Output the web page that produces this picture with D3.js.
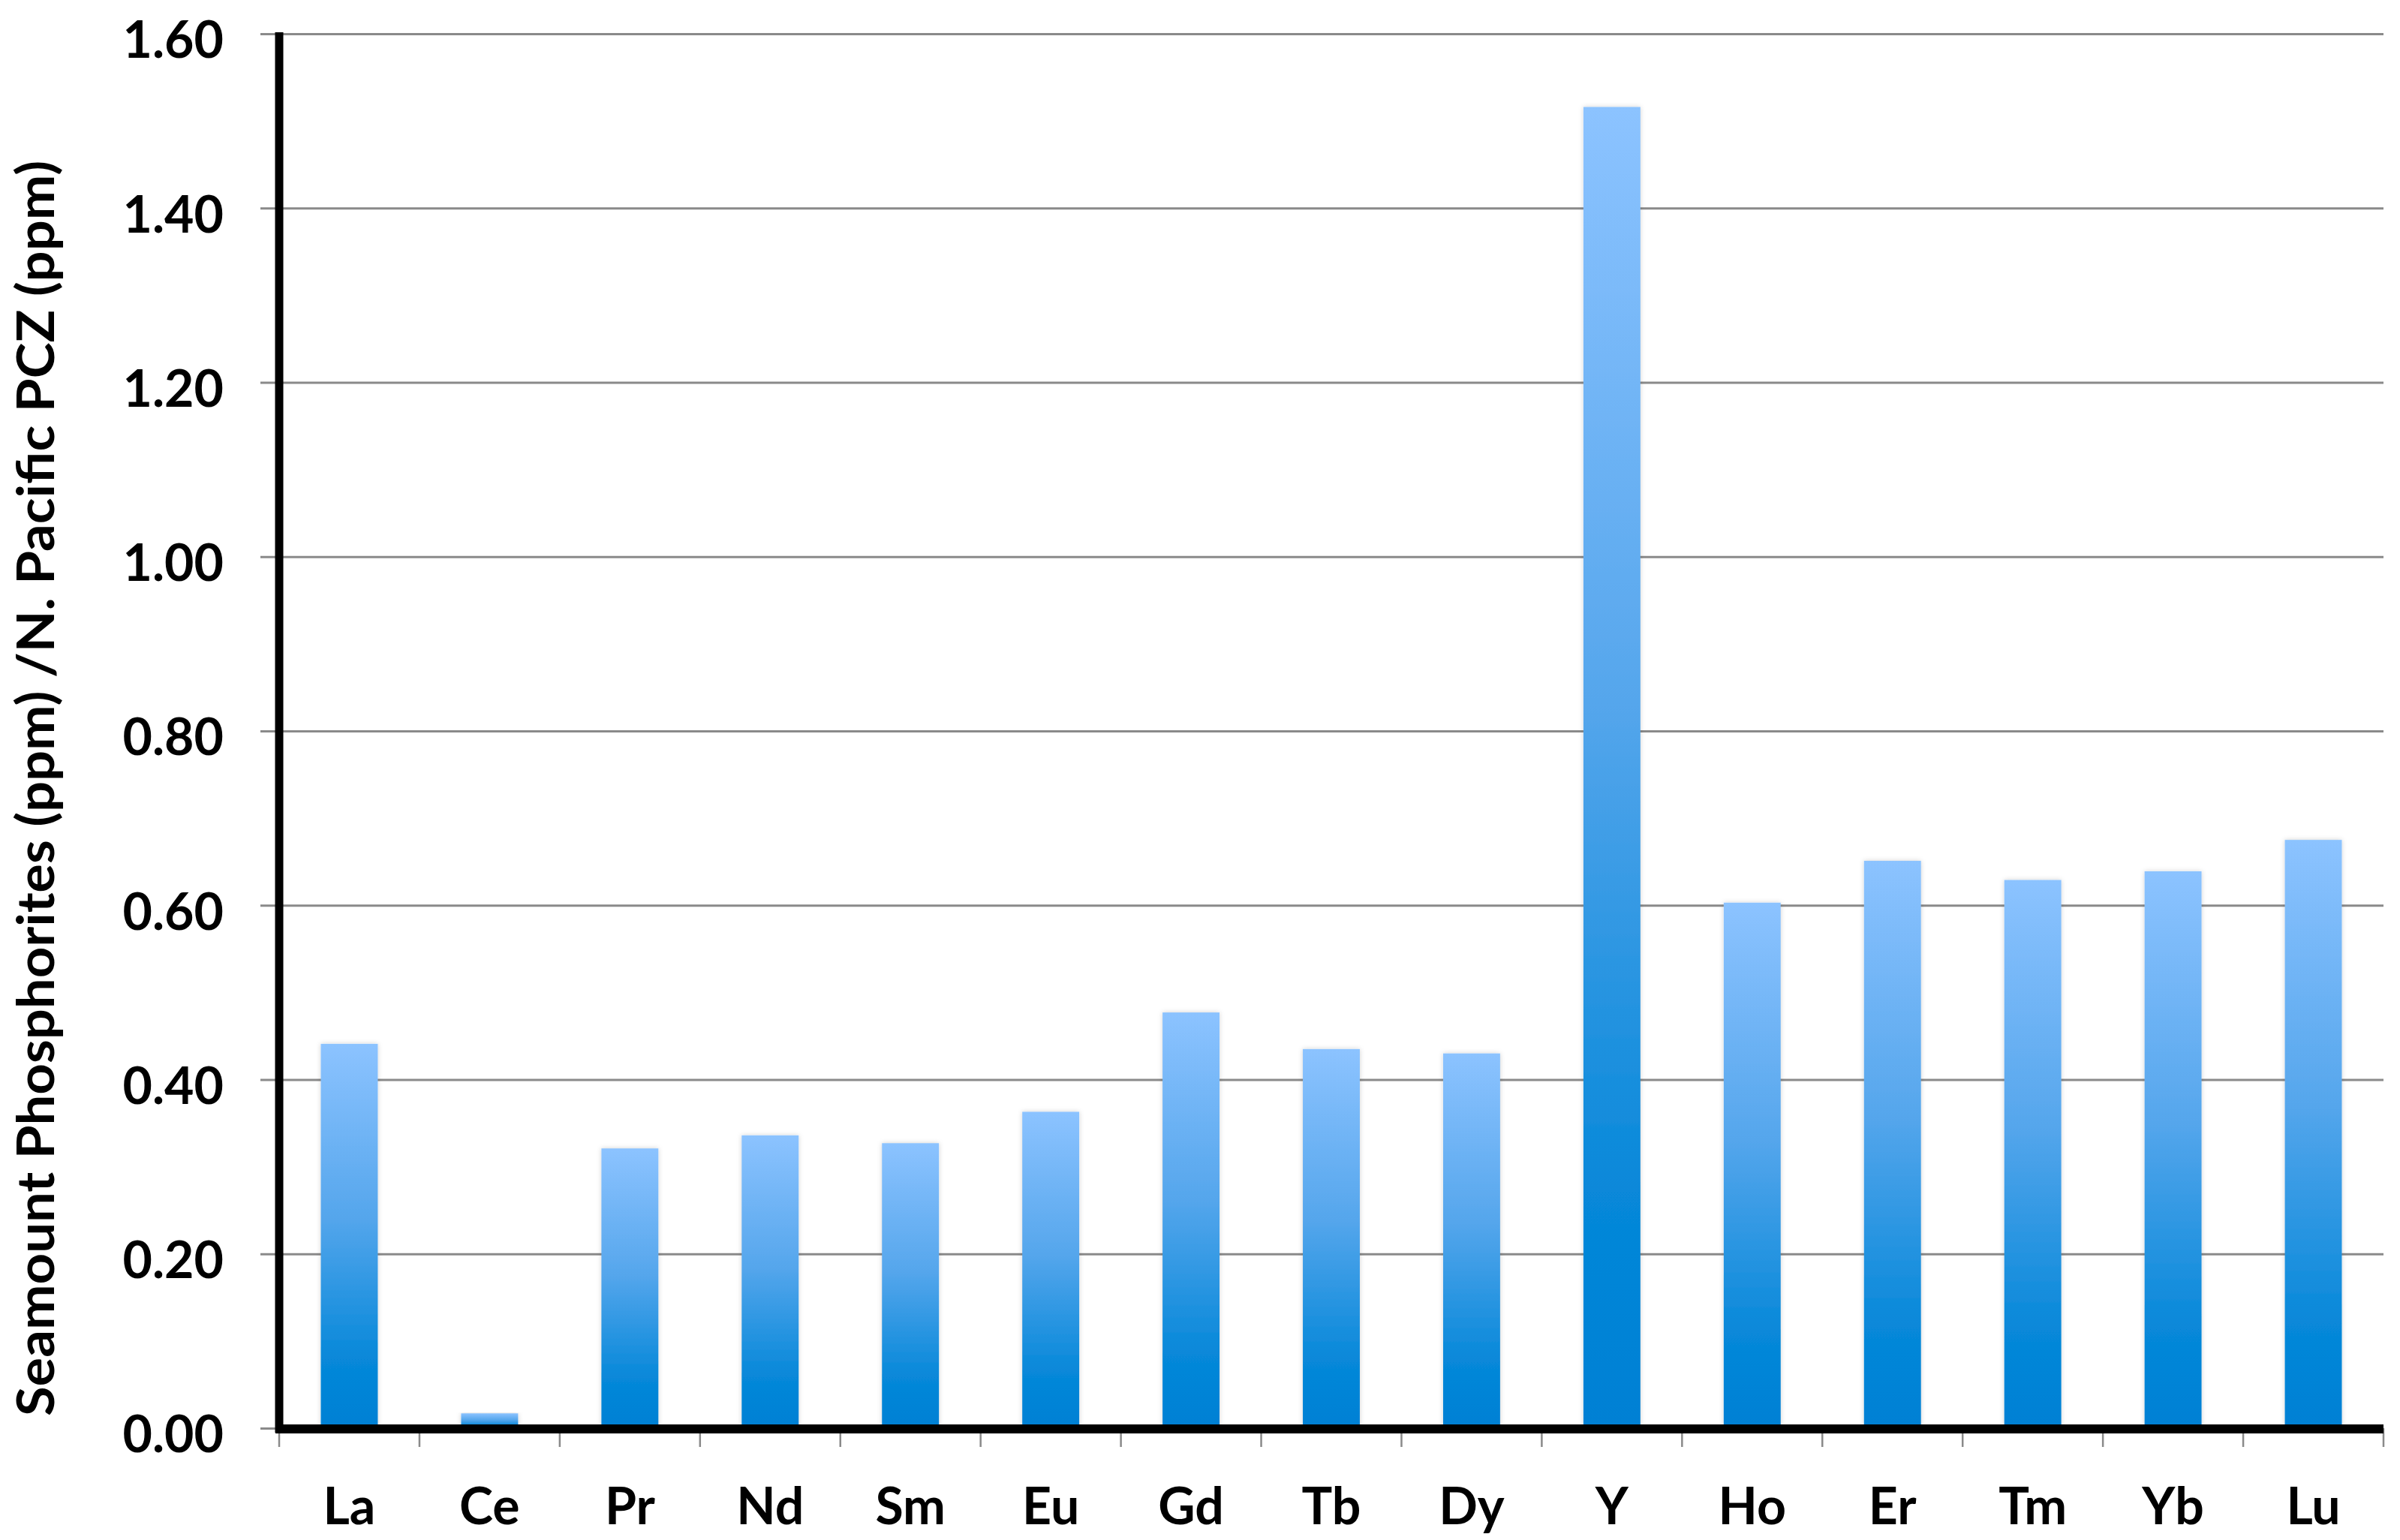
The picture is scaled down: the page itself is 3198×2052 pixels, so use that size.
<!DOCTYPE html>
<html>
<head>
<meta charset="utf-8">
<script src="https://cdn.jsdelivr.net/npm/d3@7"></script>
<style>
  html, body { margin: 0; padding: 0; background: #fff; }
  svg text { font-family: Lato, "Open Sans", sans-serif; font-weight: 700; fill: #000; }
</style>
</head>
<body>
<svg id="chart" width="3198" height="2052"></svg>
<script>
    // REE ratios
    const elements = ["La", "Ce", "Pr", "Nd", "Sm", "Eu", "Gd", "Tb", "Dy", "Y", "Ho", "Er", "Tm", "Yb", "Lu"];
    const ratios = [0.441, 0.017, 0.321, 0.336, 0.327, 0.363, 0.477, 0.435, 0.430, 1.516, 0.603, 0.651, 0.629, 0.639, 0.675];
    const yTicks = [0, 0.2, 0.4, 0.6, 0.8, 1.0, 1.2, 1.4, 1.6];
    const yTitle = "Seamount Phosphorites (ppm) /N. Pacific PCZ (ppm)";

    const svg = d3.select("#chart");
    const margin = { top: 45, right: 22, bottom: 149, left: 372 };
    const width = 3198 - margin.left - margin.right;
    const height = 2052 - margin.top - margin.bottom;

    const x = d3.scaleBand().domain(elements).range([0, width])
      .paddingInner(0.594).paddingOuter(0.297);
    const y = d3.scaleLinear().domain([0, 1.6]).range([height, 0]);

    // gradient + faint shadow like the Excel bars
    const defs = svg.append("defs");
    const grad = defs.append("linearGradient").attr("id", "barGrad")
      .attr("x1", 0).attr("y1", 0).attr("x2", 0).attr("y2", 1);
    grad.append("stop").attr("offset", "0%").attr("stop-color", "#8cc3ff");
    grad.append("stop").attr("offset", "45%").attr("stop-color", "#55a6ec");
    grad.append("stop").attr("offset", "82%").attr("stop-color", "#0788d9");
    grad.append("stop").attr("offset", "100%").attr("stop-color", "#0080d4");
    const shadow = defs.append("filter").attr("id", "barShadow")
      .attr("x", "-20%").attr("y", "-5%").attr("width", "140%").attr("height", "110%");
    shadow.append("feDropShadow").attr("dx", 0).attr("dy", 0)
      .attr("stdDeviation", 3).attr("flood-color", "#000").attr("flood-opacity", 0.18);

    const g = svg.append("g").attr("transform", `translate(${margin.left},${margin.top})`);

    // gridlines (stick out left of the axis as tick stubs)
    g.append("g")
      .attr("transform", `translate(${width},0)`)
      .call(d3.axisRight(y).tickValues(yTicks).tickSize(-(width + 25)).tickFormat(""))
      .call(a => a.select(".domain").remove())
      .call(a => a.selectAll("line").attr("stroke", "#8a8a8a").attr("stroke-width", 3));

    // y tick labels
    g.append("g")
      .call(d3.axisLeft(y).tickValues(yTicks).tickSize(0).tickPadding(74).tickFormat(d3.format(".2f")))
      .call(a => a.select(".domain").remove())
      .call(a => a.selectAll("text")
        .attr("dy", "0.47em")
        .style("font-size", "68px")
        .attr("fill", "#000"));

    // bars
    g.selectAll("rect.bar")
      .data(ratios)
      .join("rect")
      .attr("class", "bar")
      .attr("x", (d, i) => x(elements[i]))
      .attr("width", x.bandwidth())
      .attr("y", d => y(d))
      .attr("height", d => y(0) - y(d))
      .attr("fill", "url(#barGrad)")
      .attr("filter", "url(#barShadow)");

    // category tick marks under the x axis
    const bounds = d3.range(elements.length + 1).map(i => i * x.step());
    g.selectAll("line.xtick")
      .data(bounds)
      .join("line")
      .attr("class", "xtick")
      .attr("x1", d => d).attr("x2", d => d)
      .attr("y1", y(0)).attr("y2", y(0) + 25)
      .attr("stroke", "#8a8a8a").attr("stroke-width", 2.5);

    // x labels
    g.append("g")
      .attr("transform", `translate(0,${height})`)
      .call(d3.axisBottom(x).tickSize(0))
      .call(a => a.select(".domain").remove())
      .call(a => a.selectAll("text")
        .attr("y", 128).attr("dy", 0)
        .style("font-size", "68px")
        .attr("fill", "#000"));

    // heavy black axis lines
    g.append("line")
      .attr("x1", 0).attr("x2", 0)
      .attr("y1", y(1.6) - 2).attr("y2", y(0) + 6)
      .attr("stroke", "#000").attr("stroke-width", 11);
    g.append("line")
      .attr("x1", -5).attr("x2", width)
      .attr("y1", y(0) + 1).attr("y2", y(0) + 1)
      .attr("stroke", "#000").attr("stroke-width", 12);

    // y title, squeezed to the span it has in the original (Calibri is narrower than Lato)
    svg.append("text")
      .attr("transform", `translate(72,${(214 + 1887) / 2}) rotate(-90)`)
      .attr("text-anchor", "middle")
      .attr("textLength", 1887 - 214)
      .attr("lengthAdjust", "spacingAndGlyphs")
      .style("font-size", "68px")
      .text(yTitle);
</script>
</body>
</html>
